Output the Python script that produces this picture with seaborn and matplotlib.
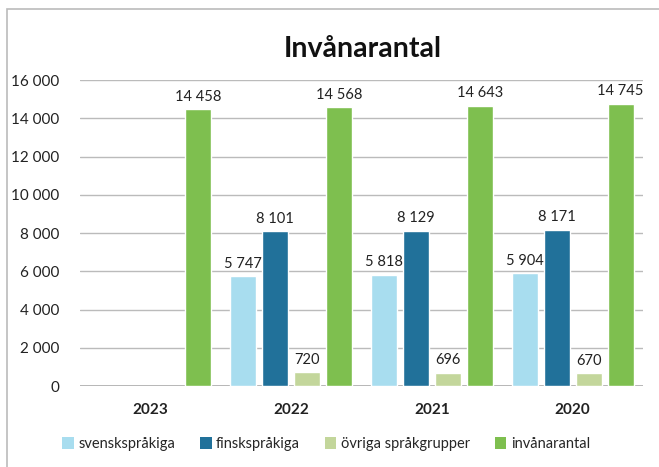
import numpy as np
import pandas as pd
import seaborn as sns
import matplotlib.pyplot as plt
from matplotlib.patches import Patch, Rectangle
from matplotlib.ticker import FuncFormatter

# Data
years = ['2023', '2022', '2021', '2020']
series = ['svenskspråkiga', 'finskspråkiga', 'övriga språkgrupper', 'invånarantal']
svenskspråkiga = [np.nan, 5747, 5818, 5904]
finskspråkiga = [np.nan, 8101, 8129, 8171]
övriga = [np.nan, 720, 696, 670]
invånarantal = [14458, 14568, 14643, 14745]
colors = ['#A8DDEF', '#21719A', '#C3D69B', '#7EBF4F']

rows = []
for name, vals in zip(series, [svenskspråkiga, finskspråkiga, övriga, invånarantal]):
    for y, v in zip(years, vals):
        rows.append((y, name, v))
df = pd.DataFrame(rows, columns=['year', 'group', 'value']).dropna()

sns.set_style('white')
plt.rcParams['font.family'] = ['Lato', 'DejaVu Sans']

fig = plt.figure(figsize=(6.59, 4.67), dpi=100)
ax = fig.add_axes([80 / 659, 81 / 467, 563 / 659, 306 / 467])

sns.barplot(data=df, x='year', y='value', hue='group', order=years, hue_order=series,
            palette=colors, width=0.91, gap=0.19, saturation=1, legend=False, ax=ax)


def fmt(v, pos=None):
    return f"{v:,.0f}".replace(',', ' ')


for c in ax.containers:
    ax.bar_label(c, labels=[fmt(v) for v in c.datavalues], padding=4, fontsize=10.5, color='#222222')

ax.set_ylim(0, 16000)
ax.set_xlim(-0.5, 3.5)
ax.set_yticks(np.arange(0, 16001, 2000))
ax.yaxis.set_major_formatter(FuncFormatter(fmt))
ax.grid(axis='y', color='#BBBBBB', linewidth=1)
ax.set_axisbelow(True)
for s in ax.spines.values():
    s.set_visible(False)
ax.axhline(0, color='#AAAAAA', linewidth=1.2, zorder=0.5)
ax.tick_params(axis='both', length=0, labelsize=11, labelcolor='#222222')
ax.tick_params(axis='y', pad=15)
ax.tick_params(axis='x', pad=12)
for t in ax.get_xticklabels():
    t.set_fontweight('bold')
ax.set_xlabel('')
ax.set_ylabel('')

fig.text(363 / 659, 1 - 49 / 467, 'Invånarantal', ha='center', va='center',
         fontsize=20.5, fontweight='bold', color='#111111')

handles = [Patch(facecolor=c, edgecolor='none') for c in colors]
fig.legend(handles, series, loc='center', bbox_to_anchor=(326 / 659, 1 - 444 / 467),
           ncol=4, frameon=False, fontsize=10.5, handlelength=0.8, handleheight=0.8,
           handletextpad=0.3, columnspacing=1.7)

fig.patches.append(Rectangle((7 / 659, -0.1), 1.1, 1 - 9 / 467 + 0.1, transform=fig.transFigure,
                             fill=False, edgecolor='#BBBBBB', linewidth=1.2))

fig.savefig('out.png', dpi=100)
